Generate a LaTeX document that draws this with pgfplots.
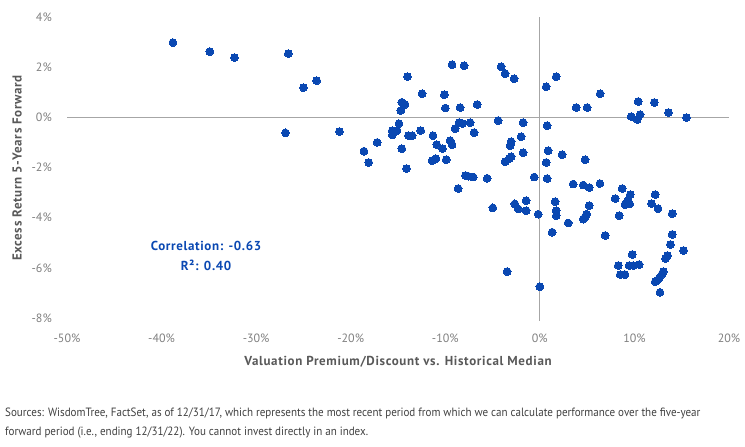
\documentclass[border=0pt]{standalone}
\usepackage{pgfplots}
\pgfplotsset{compat=1.18}
\usepackage{fontspec}
\setmainfont{PT Sans}
\newfontfamily\footfont[FakeStretch=0.92]{PT Sans}
\newfontfamily\titlefont[LetterSpace=5]{PT Sans}
\definecolor{dotblue}{RGB}{10,72,178}
\definecolor{tickgray}{RGB}{128,128,128}
\definecolor{titlegray}{RGB}{89,89,89}
\definecolor{linegray}{RGB}{166,166,166}
\definecolor{notegray}{RGB}{64,64,64}
\begin{document}
\begin{tikzpicture}
\useasboundingbox (0pt,0pt) rectangle (745pt,447pt);
\begin{axis}[at={(67pt,129pt)}, anchor=south west, scale only axis,
  width=662pt, height=301pt,
  xmin=-50, xmax=20, ymin=-8, ymax=4,
  axis line style={draw=none}, major tick length=0pt,
  xtick={-50,-40,-30,-20,-10,0,10,20},
  xticklabels={-50\%,-40\%,-30\%,-20\%,-10\%,0\%,10\%,20\%},
  ytick={-8,-6,-4,-2,0,2,4},
  yticklabels={-8\%,-6\%,-4\%,-2\%,0\%,2\%,4\%},
  ticklabel style={font=\fontsize{12}{14}\selectfont, text=tickgray, inner sep=0pt},
  xticklabel style={anchor=center, yshift=-20pt},
  yticklabel style={anchor=east, xshift=-15pt},
  clip=false]
\draw[linegray, line width=0.9pt] (axis cs:-50,0) -- (axis cs:20,0);
\draw[linegray, line width=0.9pt] (axis cs:0,-8.1) -- (axis cs:0,4);
\addplot[only marks, mark=*, mark size=3.9pt, mark options={fill=dotblue, draw=dotblue, line width=0pt}] table {
x y
-38.8 2.98
-34.9 2.62
-32.3 2.38
-26.6 2.54
-26.9 -0.62
-25.0 1.18
-23.6 1.46
-21.2 -0.57
-18.6 -1.35
-18.1 -1.80
-17.2 -1.00
-14.0 1.62
-12.45 0.94
-14.6 0.60
-14.25 0.51
-14.7 0.27
-14.9 -0.25
-15.6 -0.53
-15.1 -0.53
-15.6 -0.70
-13.9 -0.73
-13.5 -0.73
-12.6 -0.53
-14.6 -1.25
-14.1 -2.04
-9.28 2.10
-8.01 2.06
-10.1 0.90
-10.0 0.37
-8.43 0.39
-6.63 0.51
-8.54 -0.21
-8.18 -0.25
-7.37 -0.21
-8.96 -0.45
-6.95 -0.61
-11.3 -0.73
-10.9 -1.09
-10.3 -1.25
-9.49 -0.93
-9.28 -1.09
-11.4 -1.73
-11.0 -1.65
-9.9 -1.69
-7.87 -2.32
-7.55 -2.35
-7.05 -2.38
-5.57 -2.43
-8.64 -2.84
-4.09 2.02
-3.67 1.74
-2.72 1.54
-4.41 -0.13
-1.77 -0.21
-1.98 -0.77
-3.04 -0.97
-3.14 -1.13
-1.77 -1.41
-3.04 -1.57
-3.25 -1.65
-3.67 -1.77
-0.60 -2.38
0.67 1.22
1.73 1.62
0.77 -0.33
0.88 -1.33
0.67 -1.80
0.77 -2.44
2.36 -1.49
3.84 0.39
5.0 0.39
6.38 0.94
4.79 -1.69
10.4 0.63
12.1 0.59
13.6 0.19
9.66 0.03
10.3 -0.09
10.6 0.11
15.5 -0.01
3.52 -2.66
4.58 -2.70
5.22 -2.80
6.35 -2.64
-4.97 -3.61
-2.65 -3.45
-2.29 -3.65
-1.45 -3.32
-1.45 -3.72
-0.18 -3.86
1.62 -3.36
1.73 -3.72
1.73 -3.92
2.99 -4.21
1.30 -4.58
5.22 -3.52
4.94 -3.86
4.58 -4.06
4.79 -3.97
-3.46 -6.15
0.0 -6.75
6.91 -4.71
7.97 -3.24
8.71 -2.84
8.39 -3.92
9.56 -3.08
9.3 -3.32
9.2 -3.40
9.0 -3.48
9.5 -3.45
12.2 -3.08
11.8 -3.44
12.5 -3.64
14.0 -3.84
14.0 -4.67
13.8 -5.07
15.2 -5.31
13.5 -5.51
13.3 -5.63
9.77 -5.47
8.29 -5.91
9.45 -5.91
9.87 -5.91
10.5 -5.87
8.5 -6.27
9.0 -6.27
13.05 -6.15
12.9 -6.27
12.6 -6.43
12.4 -6.50
12.2 -6.55
12.7 -6.98
};
\end{axis}
\node[font=\titlefont\bfseries\fontsize{13}{15}\selectfont, text=titlegray] at (398pt,85pt) {Valuation Premium/Discount vs. Historical Median};
\node[rotate=90, font=\titlefont\bfseries\fontsize{13}{15}\selectfont, text=titlegray] at (17pt,279pt) {Excess Return 5-Years Forward};
\node[font=\titlefont\bfseries\fontsize{13}{15}\selectfont, text=dotblue] at (206pt,201.3pt) {Correlation: -0.63};
\node[font=\titlefont\bfseries\fontsize{13}{15}\selectfont, text=dotblue] at (206pt,181.3pt) {R²: 0.40};
\node[anchor=base west, inner sep=0pt, font=\footfont\fontsize{12}{14}\selectfont, text=notegray] at (5pt,30pt) {Sources: WisdomTree, FactSet, as of 12/31/17, which represents the most recent period from which we can calculate performance over the five-year};
\node[anchor=base west, inner sep=0pt, font=\footfont\fontsize{12}{14}\selectfont, text=notegray] at (5pt,11pt) {forward period (i.e., ending 12/31/22). You cannot invest directly in an index.};
\end{tikzpicture}
\end{document}
